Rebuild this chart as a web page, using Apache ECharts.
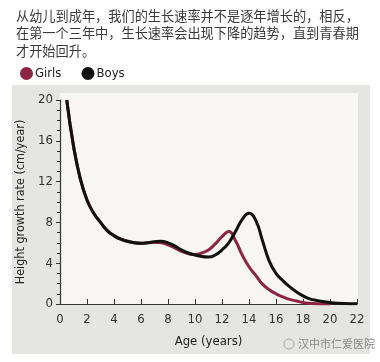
<!DOCTYPE html>
<html><head><meta charset="utf-8">
<script src="https://cdn.jsdelivr.net/npm/echarts@6/dist/echarts.min.js"></script>
<style>html,body{margin:0;padding:0;background:#fff}#c{width:380px;height:362px}</style>
</head><body><div id="c"></div>
<script>
const titleLines = ['从幼儿到成年，我们的生长速率并不是逐年增长的，相反，','在第一个三年中，生长速率会出现下降的趋势，直到青春期','才开始回升。'];
const seriesNames = ['Girls','Boys'];
const boysAge  = [0.5,1,1.5,2,2.5,3,3.5,4,4.5,5,5.5,6,6.5,7,7.5,8,8.5,9,9.5,10,10.5,11,11.5,12,12.5,13,13.5,14,14.5,15,15.5,16,16.5,17,17.5,18,18.5,19,20,21,22];
const boysRate = [20,15.5,12.3,10.2,8.9,8.0,7.2,6.7,6.35,6.15,6.0,5.95,6.0,6.1,6.15,6.0,5.7,5.3,5.0,4.8,4.65,4.6,4.8,5.3,6.0,7.1,8.3,8.9,8.2,6.2,4.2,3.0,2.3,1.7,1.2,0.8,0.5,0.35,0.15,0.05,0.03];
const girlsAge  = [0.5,1,1.5,2,2.5,3,3.5,4,4.5,5,5.5,6,6.5,7,7.5,8,8.5,9,9.5,10,10.5,11,11.5,12,12.5,13,13.5,14,14.5,15,15.5,16,16.5,17,17.5,18,18.5,19,20];
const girlsRate = [20,15.5,12.3,10.2,8.9,8.0,7.2,6.7,6.35,6.15,6.0,5.95,6.0,6.05,6.0,5.8,5.5,5.15,4.95,4.85,5.0,5.3,5.9,6.6,7.1,6.2,4.8,3.65,2.8,1.95,1.4,1.0,0.7,0.45,0.3,0.15,0.07,0.03,0];
const xTicks = {min:0,max:22,interval:2};
const yTicks = {min:0,max:20,interval:4};

const girlsColor = '#8e2443', boysColor = '#111111';
const chart = echarts.init(document.getElementById('c'));
const pair = (a,b)=>a.map((x,i)=>[x,b[i]]);
const narrow = "'DejaVu Sans Condensed','Liberation Sans Narrow',sans-serif";
chart.setOption({
  animation:false,
  backgroundColor:'#ffffff',
  graphic:[
    {type:'rect',z:-10,shape:{x:12,y:85,width:358,height:269},style:{fill:'#e5e5e1'}},
    {type:'rect',z:-9,shape:{x:60,y:93,width:298,height:211},style:{fill:'#f8f6f3'}},
    {type:'text',left:16,top:7,style:{text:titleLines.join('\n'),font:"13.2px 'Noto Sans CJK SC',sans-serif",fill:'#3a3a3a',lineHeight:17.5}},
    {type:'text',left:298,top:338,style:{text:'汉中市仁爱医院',font:"11px 'Noto Sans CJK SC',sans-serif",fill:'#8a8a8a'}},
    {type:'circle',shape:{cx:289,cy:344,r:5},style:{fill:'none',stroke:'#aaaaaa',lineWidth:1}}
  ],
  legend:{left:15,top:62,icon:'circle',itemWidth:13,itemHeight:13,itemGap:20,
    textStyle:{fontFamily:narrow,fontSize:13,color:'#222',padding:[0,0,0,-3]},
    data:seriesNames},
  grid:{left:60,right:23,top:100,bottom:58},
  xAxis:{type:'value',min:xTicks.min,max:xTicks.max,interval:xTicks.interval,
    name:'Age (years)',nameLocation:'middle',nameGap:31,
    nameTextStyle:{fontFamily:narrow,fontSize:13,color:'#222'},
    axisLine:{show:true,lineStyle:{color:'#333',width:1.2}},
    axisTick:{show:true,inside:true,length:5,lineStyle:{color:'#333'}},
    axisLabel:{fontFamily:narrow,fontSize:13,color:'#333',margin:9},
    splitLine:{show:false}},
  yAxis:{type:'value',min:yTicks.min,max:yTicks.max,interval:yTicks.interval,
    name:'Height growth rate (cm/year)',nameLocation:'middle',nameGap:30,
    nameTextStyle:{fontFamily:narrow,fontSize:12.5,color:'#222'},
    axisLine:{show:true,lineStyle:{color:'#333',width:1.2}},
    axisTick:{show:true,length:4,lineStyle:{color:'#333'}},
    minorTick:{show:true,splitNumber:4,length:3,lineStyle:{color:'#333'}},
    axisLabel:{fontFamily:narrow,fontSize:13,color:'#333',margin:7},
    splitLine:{show:false}},
  series:[
    {name:seriesNames[0],type:'line',smooth:0.5,symbol:'none',color:girlsColor,
      lineStyle:{width:3,color:girlsColor},data:pair(girlsAge,girlsRate),z:2},
    {name:seriesNames[1],type:'line',smooth:0.5,symbol:'none',color:boysColor,
      lineStyle:{width:3,color:boysColor},data:pair(boysAge,boysRate),z:3}
  ]
});
</script></body></html>
